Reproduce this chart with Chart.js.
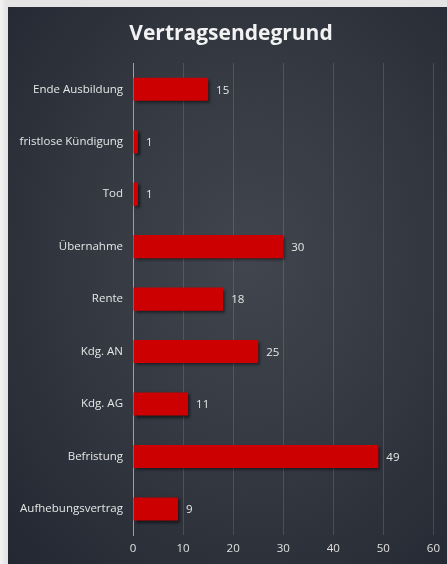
<!DOCTYPE html>
<html>
<head>
<meta charset="utf-8">
<script src="https://cdn.jsdelivr.net/npm/chart.js@4/dist/chart.umd.min.js"></script>
<style>
  html, body { margin: 0; padding: 0; width: 447px; height: 564px; overflow: hidden;
    background: linear-gradient(to right, #f4f4f4 0px, #e4e4e4 6px); }
  #panel { position: absolute; left: 8px; top: 7px; width: 439px; height: 557px;
    background: radial-gradient(ellipse at 55% 45%, #40454e 0%, #343942 45%, #232731 100%); }
  canvas { display: block; }
</style>
</head>
<body>
<div id="panel"><canvas id="c" width="439" height="557"></canvas></div>
<script>
const titleText = "Vertragsendegrund";
const categories = ["Ende Ausbildung", "fristlose Kündigung", "Tod", "Übernahme", "Rente", "Kdg. AN", "Kdg. AG", "Befristung", "Aufhebungsvertrag"];
const values = [15, 1, 1, 30, 18, 25, 11, 49, 9];
const xTicks = [0, 10, 20, 30, 40, 50, 60];

const FONT = "'Open Sans', 'DejaVu Sans', sans-serif";

const shadowPlugin = {
  id: 'barShadow',
  beforeDatasetDraw(chart) {
    const ctx = chart.ctx;
    ctx.save();
    ctx.shadowColor = 'rgba(0,0,0,0.6)';
    ctx.shadowBlur = 3;
    ctx.shadowOffsetX = 2;
    ctx.shadowOffsetY = 2;
  },
  afterDatasetDraw(chart) {
    chart.ctx.restore();
  }
};

const valueLabels = {
  id: 'valueLabels',
  afterDatasetsDraw(chart) {
    const ctx = chart.ctx;
    const meta = chart.getDatasetMeta(0);
    ctx.save();
    ctx.fillStyle = '#e6e6e6';
    ctx.font = '11.5px ' + FONT;
    ctx.textAlign = 'left';
    ctx.textBaseline = 'middle';
    meta.data.forEach((bar, i) => {
      ctx.fillText(String(values[i]), bar.x + 8, bar.y + 1);
    });
    ctx.restore();
  }
};

const titlePlugin = {
  id: 'centeredTitle',
  afterDraw(chart) {
    const ctx = chart.ctx;
    ctx.save();
    ctx.fillStyle = '#f2f2f2';
    ctx.font = 'bold 21px ' + FONT;
    ctx.textAlign = 'center';
    ctx.textBaseline = 'middle';
    ctx.fillText(titleText, 223, 27);
    ctx.restore();
  }
};

new Chart(document.getElementById('c'), {
  type: 'bar',
  data: {
    labels: categories,
    datasets: [{
      data: values,
      backgroundColor: '#cc0000',
      borderWidth: 0,
      barPercentage: 0.44,
      categoryPercentage: 1.0
    }]
  },
  options: {
    indexAxis: 'y',
    responsive: false,
    animation: false,
    events: [],
    layout: { padding: { left: 0, right: 7, top: 56, bottom: 1 } },
    plugins: {
      legend: { display: false },
      tooltip: { enabled: false },
      title: { display: false }
    },
    scales: {
      x: {
        min: 0, max: 60,
        afterBuildTicks(scale) { scale.ticks = xTicks.map(v => ({ value: v })); },
        grid: { color: 'rgba(200,205,215,0.18)', drawTicks: false, lineWidth: 1 },
        border: { display: false },
        ticks: { color: '#e0e0e0', font: { family: FONT, size: 11.5 }, padding: 7 }
      },
      y: {
        afterFit(scale) { scale.width = 125; },
        grid: { display: false, drawTicks: false },
        border: { display: true, color: '#9a9ea6', width: 1 },
        ticks: { color: '#e6e6e6', font: { family: FONT, size: 11.5 }, padding: 10 }
      }
    }
  },
  plugins: [shadowPlugin, valueLabels, titlePlugin]
});
</script>
</body>
</html>
